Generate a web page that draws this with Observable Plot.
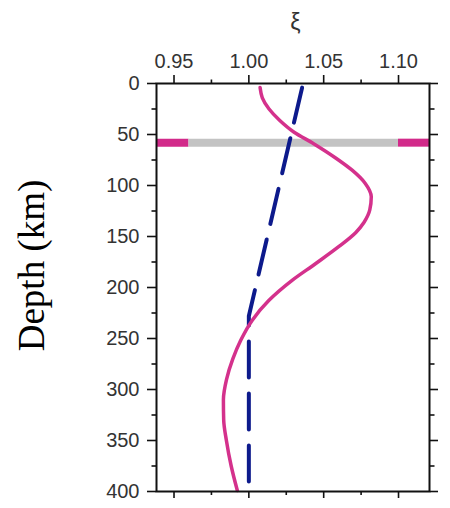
<!DOCTYPE html>
<html>
<head>
<meta charset="utf-8">
<script src="https://cdn.jsdelivr.net/npm/d3@7"></script>
<script src="https://cdn.jsdelivr.net/npm/@observablehq/plot@0.6"></script>
<style>
  html, body { margin: 0; padding: 0; background: #fff; }
  #chart svg { display: block; }
</style>
</head>
<body>
<div id="chart"></div>
<script>
// Pink (solid) curve: xi vs depth (km)
const pinkXi    = [1.0075, 1.009, 1.0135, 1.0205, 1.030, 1.0433, 1.058, 1.069, 1.0778, 1.0818, 1.0808, 1.0770, 1.0715, 1.060, 1.0445, 1.0289, 1.0133, 1.0023, 0.9945, 0.9893, 0.9851, 0.9830, 0.9832, 0.9850, 0.9882, 0.9923];
const pinkDepth = [4, 14, 25, 36, 47.5, 59, 73, 85, 98, 111, 124, 136, 146, 160, 176.7, 193, 212.8, 232, 252, 270, 290, 310, 330, 350, 375, 399];

// Blue (dashed) curve
const blueXi    = [1.0356, 1.0, 1.0];
const blueDepth = [4, 228, 400];

// Horizontal band at ~58 km
const bandDepth = 58;
const bandStart = [0.9383, 0.96, 1.10];
const bandEnd   = [0.96, 1.10, 1.1207];
const bandKind  = ["edge", "core", "edge"];

// Axes
const xDomain = [0.9383, 1.1207];
const yDomain = [0, 400];
const xMajor = [0.95, 1.00, 1.05, 1.10];
const xMinor = [0.975, 1.025, 1.075];
const yMajor = [0, 50, 100, 150, 200, 250, 300, 350, 400];
const yMinor = [25, 75, 125, 175, 225, 275, 325, 375];
const xLabel = "ξ";
const yLabel = "Depth (km)";

const pink = pinkXi.map((x, i) => ({x, y: pinkDepth[i]}));
const blue = blueXi.map((x, i) => ({x, y: blueDepth[i]}));
const band = bandStart.map((x1, i) => ({x1, x2: bandEnd[i], y: bandDepth, kind: bandKind[i]}));

const sans = "'Liberation Sans', Arial, Helvetica, sans-serif";
const blank = () => "";

const plot = Plot.plot({
  width: 450,
  height: 508,
  marginLeft: 156,
  marginRight: 21,
  marginTop: 83,
  marginBottom: 17,
  style: {fontFamily: sans, background: "#fff", overflow: "visible"},
  x: {domain: xDomain, label: null},
  y: {domain: yDomain, reverse: true, label: null},
  marks: [
    Plot.ruleY(band, {x1: "x1", x2: "x2", y: "y", stroke: d => d.kind === "edge" ? "#d22a8a" : "#c3c3c3", strokeWidth: 8}),
    Plot.line(blue, {x: "x", y: "y", stroke: "#0d1a8c", strokeWidth: 4, strokeDasharray: "36,16"}),
    Plot.line(pink, {x: "x", y: "y", stroke: "#d4318c", strokeWidth: 3.5, curve: "monotone-y", strokeLinecap: "round"}),
    Plot.frame({stroke: "#111", strokeWidth: 2}),
    // top axis
    Plot.axisX({anchor: "top", ticks: xMajor, tickSize: 9, tickPadding: 7, tickFormat: d3.format(".2f"), fontSize: 20, fill: "#333", stroke: "#111", strokeWidth: 1.6, label: null}),
    Plot.axisX({anchor: "top", ticks: xMinor, tickSize: 4.5, tickFormat: blank, stroke: "#111", strokeWidth: 1.6, label: null}),
    // bottom axis
    Plot.axisX({anchor: "bottom", ticks: xMajor, tickSize: 7, tickFormat: blank, stroke: "#111", strokeWidth: 1.6, label: null}),
    Plot.axisX({anchor: "bottom", ticks: xMinor, tickSize: 4, tickFormat: blank, stroke: "#111", strokeWidth: 1.6, label: null}),
    // left axis
    Plot.axisY({anchor: "left", ticks: yMajor, tickSize: 9, tickPadding: 8, fontSize: 20, fill: "#333", stroke: "#111", strokeWidth: 1.6, label: null}),
    Plot.axisY({anchor: "left", ticks: yMinor, tickSize: 4.5, tickFormat: blank, stroke: "#111", strokeWidth: 1.6, label: null}),
    // right axis
    Plot.axisY({anchor: "right", ticks: yMajor, tickSize: 8, tickFormat: blank, stroke: "#111", strokeWidth: 1.6, label: null}),
    Plot.axisY({anchor: "right", ticks: yMinor, tickSize: 4.5, tickFormat: blank, stroke: "#111", strokeWidth: 1.6, label: null}),
    // labels
    Plot.text([xLabel], {frameAnchor: "top", dx: 2.5, dy: -61, fontSize: 23, fill: "#333", lineAnchor: "middle"}),
    Plot.text([yLabel], {frameAnchor: "left", textAnchor: "middle", rotate: -90, dx: -124.5, dy: -22, fontSize: 37, fill: "#000", fontFamily: "'Liberation Serif', 'Times New Roman', serif", lineAnchor: "middle"})
  ]
});

document.getElementById("chart").appendChild(plot);
</script>
</body>
</html>
